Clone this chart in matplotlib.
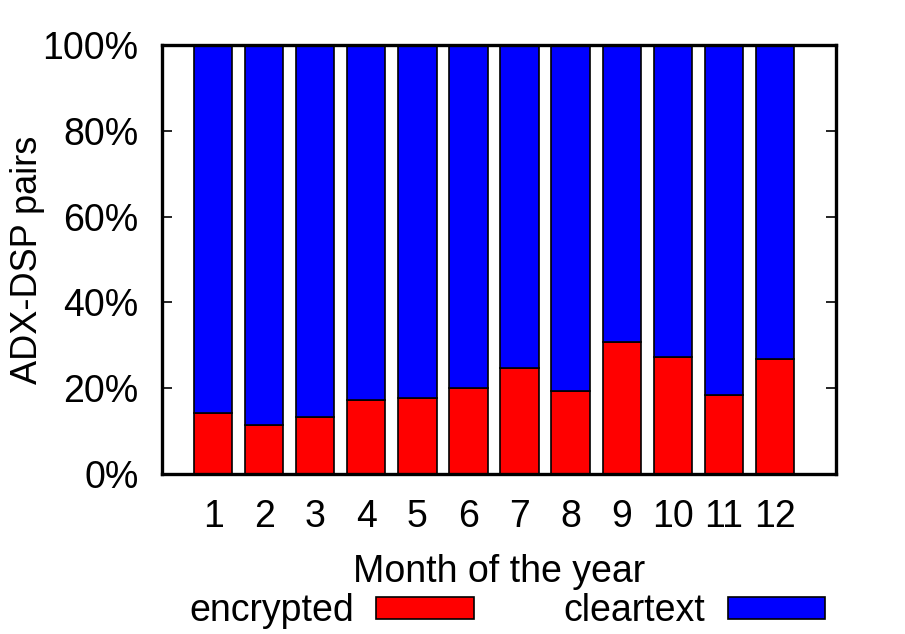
import numpy as np
import matplotlib
matplotlib.use("Agg")
import matplotlib.pyplot as plt
from matplotlib.ticker import PercentFormatter

plt.rcParams["font.family"] = ["Liberation Sans", "DejaVu Sans"]

MONTHS    = [1, 2, 3, 4, 5, 6, 7, 8, 9, 10, 11, 12]
ENCRYPTED = [14.3, 11.5, 13.3, 17.2, 17.6, 20.0, 24.7, 19.4, 30.8, 27.2, 18.3, 26.8]
CLEARTEXT = [100 - v for v in ENCRYPTED]

RED  = "#FF0000"
BLUE = "#0000FF"
FS   = 27

fig = plt.figure(figsize=(9.05, 6.34), dpi=100)
ax = fig.add_axes([0.179, 0.2524, 0.745, 0.6766])

x = np.array(MONTHS)
ax.bar(x, ENCRYPTED, width=0.75, color=RED, edgecolor="black", linewidth=1.2,
       label="encrypted", zorder=2)
ax.bar(x, CLEARTEXT, width=0.75, bottom=ENCRYPTED, color=BLUE, edgecolor="black",
       linewidth=1.2, label="cleartext", zorder=2)

ax.set_xlim(0, 13.2)
ax.set_ylim(0, 100)
ax.set_yticks([0, 20, 40, 60, 80, 100])
ax.yaxis.set_major_formatter(PercentFormatter(decimals=0))
ax.set_xticks(x)
ax.set_xticklabels([str(m) for m in MONTHS])

ax.tick_params(axis="y", direction="in", length=7, width=1.2, right=True,
               labelsize=FS, pad=17)
ax.tick_params(axis="x", length=0, labelsize=FS, pad=18)
for s in ax.spines.values():
    s.set_linewidth(2.4)

ax.set_ylabel("ADX-DSP pairs", fontsize=26)
ax.yaxis.set_label_coords(-0.174, 0.5)
ax.set_xlabel("Month of the year", fontsize=FS, labelpad=14)

ax.legend(loc="upper center", bbox_to_anchor=(0.512, -0.243), ncol=2,
          frameon=False, markerfirst=False, fontsize=FS,
          handlelength=2.6, handleheight=0.55, handletextpad=0.6,
          columnspacing=2.4, borderaxespad=0)

fig.savefig("out.png", dpi=100)
